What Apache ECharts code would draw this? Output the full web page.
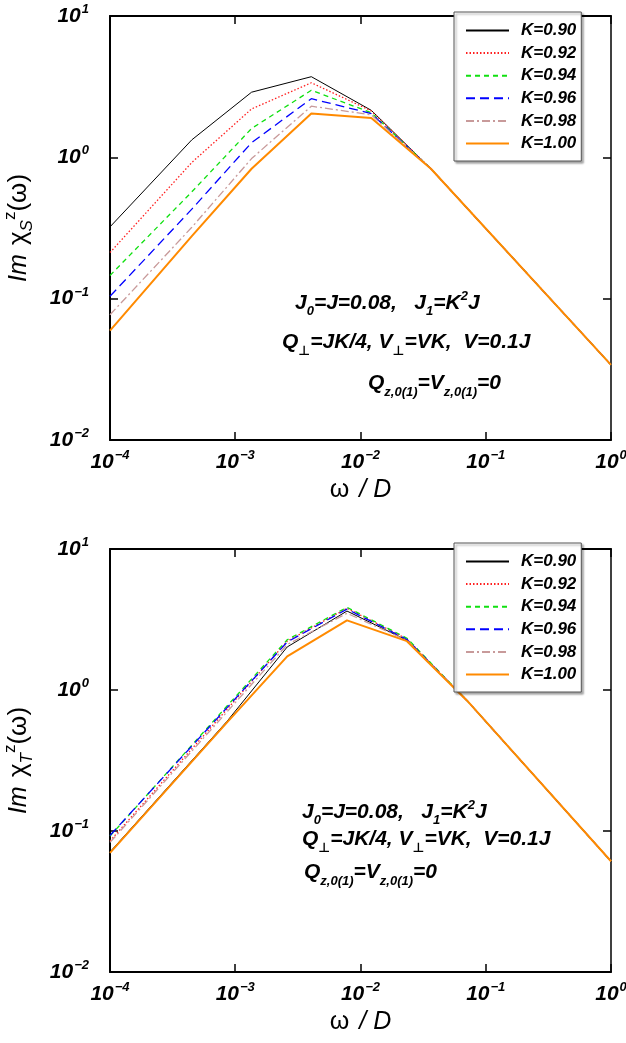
<!DOCTYPE html>
<html>
<head>
<meta charset="utf-8">
<script src="https://cdn.jsdelivr.net/npm/echarts@6/dist/echarts.min.js"></script>
<style>
  html, body { margin: 0; padding: 0; background: #fff; }
  #chart { width: 626px; height: 1043px; }
</style>
</head>
<body>
<div id="chart"></div>
<script>
// Series names (Kondo coupling ratio K)
const kLabels = ['K=0.90', 'K=0.92', 'K=0.94', 'K=0.96', 'K=0.98', 'K=1.00'];

// Upper panel: Im chi_S^z(omega)
const omegaS = [1e-4, 4.5e-4, 1.35e-3, 4.05e-3, 1.22e-2, 3.65e-2, 1];
const chiS_K090 = [0.322, 1.33, 2.89, 3.72, 2.15, 0.83, 0.034];
const chiS_K092 = [0.212, 0.92, 2.20, 3.37, 2.13, 0.83, 0.034];
const chiS_K094 = [0.146, 0.57, 1.60, 2.98, 2.07, 0.83, 0.034];
const chiS_K096 = [0.104, 0.43, 1.27, 2.60, 2.04, 0.83, 0.034];
const chiS_K098 = [0.077, 0.32, 0.98, 2.30, 2.00, 0.83, 0.034];
const chiS_K100 = [0.0594, 0.277, 0.83, 2.04, 1.90, 0.83, 0.034];

// Lower panel: Im chi_T^z(omega)
const omegaT = [1e-4, 8.6e-4, 2.6e-3, 7.8e-3, 2.35e-2, 7.1e-2, 1];
const chiT_K090 = [0.071, 0.60, 2.02, 3.63, 2.25, 0.84, 0.061];
const chiT_K092 = [0.085, 0.73, 2.22, 3.80, 2.30, 0.84, 0.061];
const chiT_K094 = [0.092, 0.77, 2.27, 3.86, 2.33, 0.84, 0.061];
const chiT_K096 = [0.093, 0.75, 2.19, 3.75, 2.28, 0.84, 0.061];
const chiT_K098 = [0.083, 0.70, 2.10, 3.50, 2.25, 0.84, 0.061];
const chiT_K100 = [0.070, 0.59, 1.73, 3.12, 2.22, 0.84, 0.061];

const chiS = [chiS_K090, chiS_K092, chiS_K094, chiS_K096, chiS_K098, chiS_K100];
const chiT = [chiT_K090, chiT_K092, chiT_K094, chiT_K096, chiT_K098, chiT_K100];

const FONT = '"Liberation Sans", Arial, "DejaVu Sans", sans-serif';

const lineStyles = [
  { color: '#000000', width: 1,   type: 'solid' },
  { color: '#ff2020', width: 1.3, type: [1.5, 2] },
  { color: '#10e010', width: 1.3, type: [5, 4] },
  { color: '#0000ff', width: 1.3, type: [9, 5] },
  { color: '#c89a9a', width: 1.3, type: [8, 3, 2, 3] },
  { color: '#ff8a00', width: 2,   type: 'solid' }
];

function decadeLabel(v) {
  const e = Math.round(Math.log10(v));
  return '{b|10}{s|' + (e < 0 ? '\u2212' + (-e) : String(e)) + '}';
}

const tickRich = {
  b: { fontFamily: FONT, fontSize: 21, fontWeight: 'bold', fontStyle: 'italic', color: '#000', lineHeight: 30, verticalAlign: 'middle' },
  s: { fontFamily: FONT, fontSize: 13, fontWeight: 'bold', fontStyle: 'italic', color: '#000', verticalAlign: 'top', padding: [2, 0, 0, 1] }
};

function xAxisFor(gridIndex, position) {
  const main = position === 'bottom';
  return {
    type: 'log', logBase: 10, gridIndex: gridIndex, position: position,
    min: 1e-4, max: 1,
    axisLine: { show: true, onZero: false, lineStyle: { color: '#000', width: 2 } },
    axisTick: { show: true, inside: true, length: 8, lineStyle: { color: '#000', width: 1.5 } },
    minorTick: { show: false },
    splitLine: { show: false },
    axisLabel: { show: main, formatter: decadeLabel, margin: 7, rich: tickRich, color: '#000' },
    name: main ? '{w|\u03c9}{d| / D}' : '',
    nameLocation: 'middle',
    nameGap: 38,
    nameTextStyle: {
      rich: {
        w: { fontFamily: FONT, fontSize: 25, color: '#000', padding: [0, 3, 0, 0] },
        d: { fontFamily: FONT, fontSize: 25, fontStyle: 'italic', color: '#000' }
      }
    }
  };
}

function yAxisFor(gridIndex, position, sub) {
  const main = position === 'left';
  return {
    type: 'log', logBase: 10, gridIndex: gridIndex, position: position,
    min: 1e-2, max: 10,
    axisLine: { show: true, onZero: false, lineStyle: { color: '#000', width: main ? 2 : 1.5 } },
    axisTick: { show: true, inside: true, length: 8, lineStyle: { color: '#000', width: 1.5 } },
    minorTick: { show: false },
    splitLine: { show: false },
    axisLabel: { show: main, formatter: decadeLabel, margin: 21, rich: tickRich, color: '#000' },
    name: main ? '{i|Im}{c| \u03c7}{sb|' + sub + '}{sp|z}{c|(\u03c9)}' : '',
    nameLocation: 'middle',
    nameRotate: 90,
    nameGap: 74,
    nameTextStyle: {
      rich: {
        i:  { fontFamily: FONT, fontSize: 25, fontStyle: 'italic', color: '#000', lineHeight: 34, verticalAlign: 'middle', padding: [0, 2, 0, 0] },
        c:  { fontFamily: FONT, fontSize: 26, color: '#000', lineHeight: 34, verticalAlign: 'middle' },
        sb: { fontFamily: FONT, fontSize: 17, fontStyle: 'italic', color: '#000', verticalAlign: 'bottom' },
        sp: { fontFamily: FONT, fontSize: 17, color: '#000', verticalAlign: 'top' }
      }
    }
  };
}

function legendFor(top) {
  return {
    orient: 'vertical', left: 454, top: top,
    data: kLabels,
    selectedMode: false,
    itemWidth: 43, itemHeight: 14, itemGap: 5.6,
    padding: [10, 5, 9, 11],
    backgroundColor: '#fff',
    borderColor: '#555', borderWidth: 1,
    shadowColor: 'rgba(0,0,0,0.35)', shadowBlur: 2, shadowOffsetX: 2, shadowOffsetY: 2,
    itemStyle: { opacity: 0 },
    textStyle: { fontFamily: FONT, fontSize: 17, fontWeight: 'bold', fontStyle: 'italic', color: '#000', padding: [0, 0, 0, 7] }
  };
}

const annRich = {
  t:  { fontFamily: FONT, fontSize: 21, fontWeight: 'bold', fontStyle: 'italic', fill: '#000', lineHeight: 30, verticalAlign: 'middle' },
  sb: { fontFamily: FONT, fontSize: 13, fontWeight: 'bold', fontStyle: 'italic', fill: '#000', verticalAlign: 'bottom' },
  sp: { fontFamily: FONT, fontSize: 13, fontWeight: 'bold', fontStyle: 'italic', fill: '#000', verticalAlign: 'top', padding: [2, 0, 0, 0] }
};
const annLine1 = '{t|J}{sb|0}{t|=J=0.08,   J}{sb|1}{t|=K}{sp|2}{t|J}';
const annLine2 = '{t|Q}{sb|\u22a5}{t|=JK/4, V}{sb|\u22a5}{t|=VK,  V=0.1J}';
const annLine3 = '{t|Q}{sb|z,0(1)}{t|=V}{sb|z,0(1)}{t|=0}';

function annText(text, left, top) {
  return { type: 'text', left: left, top: top, z: 10, style: { text: text, rich: annRich } };
}

const series = [];
kLabels.forEach(function (name, k) {
  series.push({
    name: name, type: 'line', xAxisIndex: 0, yAxisIndex: 0,
    symbol: 'none', lineStyle: lineStyles[k], itemStyle: { color: lineStyles[k].color },
    data: omegaS.map(function (w, i) { return [w, chiS[k][i]]; })
  });
});
kLabels.forEach(function (name, k) {
  series.push({
    name: name, type: 'line', xAxisIndex: 2, yAxisIndex: 2,
    symbol: 'none', lineStyle: lineStyles[k], itemStyle: { color: lineStyles[k].color },
    data: omegaT.map(function (w, i) { return [w, chiT[k][i]]; })
  });
});

const chart = echarts.init(document.getElementById('chart'), null, { renderer: 'canvas' });
chart.setOption({
  animation: false,
  backgroundColor: '#fff',
  grid: [
    { left: 110, top: 16, width: 501, height: 424, show: false, containLabel: false, outerBoundsMode: 'none' },
    { left: 110, top: 549, width: 501, height: 423, show: false, containLabel: false, outerBoundsMode: 'none' }
  ],
  xAxis: [xAxisFor(0, 'bottom'), xAxisFor(0, 'top'), xAxisFor(1, 'bottom'), xAxisFor(1, 'top')],
  yAxis: [yAxisFor(0, 'left', 'S'), yAxisFor(0, 'right', 'S'), yAxisFor(1, 'left', 'T'), yAxisFor(1, 'right', 'T')],
  legend: [legendFor(12), legendFor(543)],
  graphic: [
    annText(annLine1, 295, 290),
    annText(annLine2, 282, 332),
    annText(annLine3, 368, 373),
    annText(annLine1, 302, 799),
    annText(annLine2, 302, 829),
    annText(annLine3, 304, 862)
  ],
  series: series
});
</script>
</body>
</html>
